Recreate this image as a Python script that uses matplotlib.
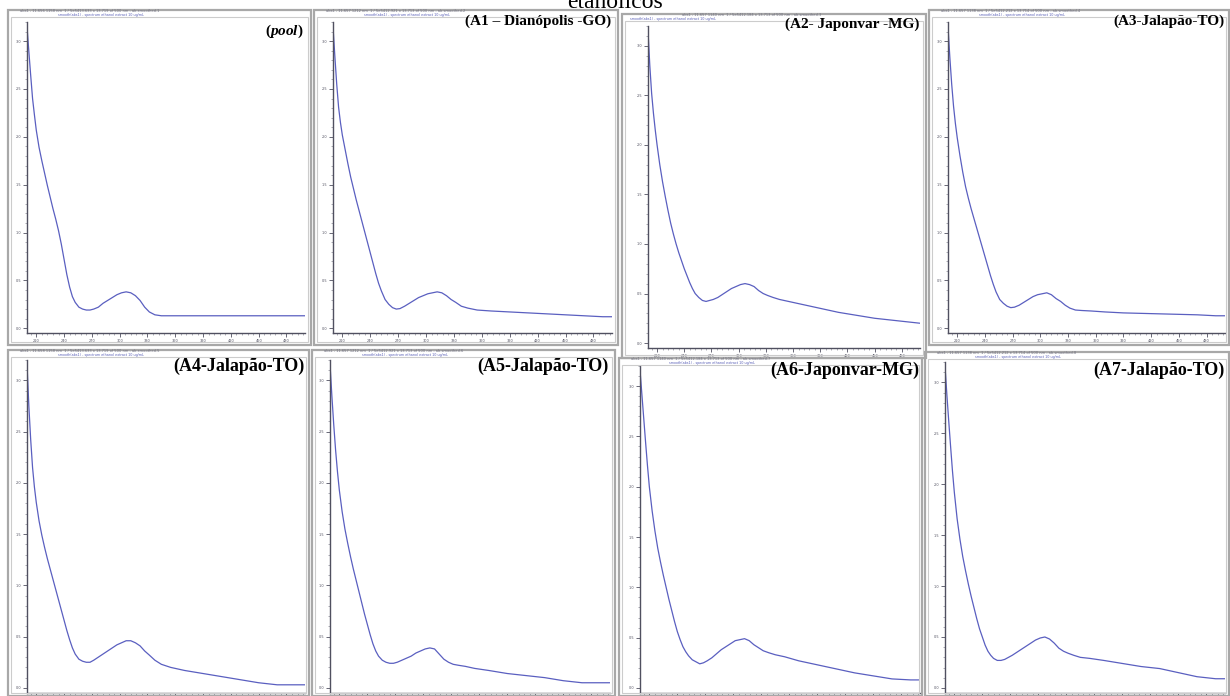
import matplotlib.pyplot as plt
from matplotlib.patches import Rectangle
from matplotlib.ticker import MultipleLocator

plt.rcParams['mathtext.fontset'] = 'custom'
plt.rcParams['mathtext.it'] = 'Liberation Serif:italic:bold'
plt.rcParams['mathtext.rm'] = 'Liberation Serif:bold'

W, H = 1230, 696

# wavelength grid (nm) shared by all spectra
wavelength = [200, 202, 204, 206, 208, 210,
              213, 216, 219, 222, 225, 228, 231, 234, 237, 240, 243, 246, 249, 252,
              256, 260, 264, 268, 272, 277, 282, 287, 292, 297, 302, 307, 312, 317,
              322, 327, 332, 338, 345, 355, 370, 390, 410, 430, 450, 470, 490, 500]

abs_pool = [3.15, 2.89, 2.64, 2.40, 2.23, 2.07,
            1.89, 1.75, 1.62, 1.49, 1.37, 1.25, 1.14, 1.02, 0.88, 0.72, 0.56, 0.43, 0.33, 0.27,
            0.22, 0.20, 0.19, 0.19, 0.20, 0.22, 0.26, 0.29, 0.32, 0.35, 0.37, 0.38, 0.37, 0.34,
            0.29, 0.22, 0.17, 0.14, 0.13, 0.13, 0.13, 0.13, 0.13, 0.13, 0.13, 0.13, 0.13, 0.13]
abs_a1 = [3.15, 2.84, 2.55, 2.31, 2.15, 2.02,
          1.87, 1.72, 1.58, 1.46, 1.34, 1.23, 1.12, 1.01, 0.90, 0.79, 0.68, 0.57, 0.47, 0.39,
          0.30, 0.25, 0.215, 0.20, 0.205, 0.23, 0.26, 0.29, 0.32, 0.34, 0.36, 0.37, 0.38, 0.37,
          0.34, 0.30, 0.27, 0.23, 0.21, 0.19, 0.18, 0.17, 0.16, 0.15, 0.14, 0.13, 0.12, 0.12]
abs_a2 = [3.15, 2.80, 2.52, 2.32, 2.15, 2.00,
          1.80, 1.63, 1.48, 1.34, 1.21, 1.10, 1.00, 0.91, 0.83, 0.75, 0.68, 0.61, 0.55, 0.50,
          0.46, 0.43, 0.42, 0.43, 0.44, 0.46, 0.49, 0.52, 0.55, 0.57, 0.59, 0.60, 0.59, 0.57,
          0.53, 0.50, 0.48, 0.46, 0.44, 0.42, 0.39, 0.35, 0.31, 0.28, 0.25, 0.23, 0.21, 0.20]
abs_a3 = [3.15, 2.83, 2.55, 2.32, 2.14, 1.99,
          1.80, 1.63, 1.48, 1.36, 1.25, 1.15, 1.05, 0.95, 0.85, 0.75, 0.65, 0.55, 0.46, 0.38,
          0.30, 0.26, 0.23, 0.215, 0.22, 0.24, 0.27, 0.30, 0.33, 0.35, 0.36, 0.37, 0.35, 0.31,
          0.28, 0.24, 0.21, 0.19, 0.185, 0.18, 0.17, 0.16, 0.155, 0.15, 0.145, 0.14, 0.13, 0.13]
abs_a4 = [3.16, 2.75, 2.42, 2.15, 1.96, 1.81,
          1.63, 1.49, 1.37, 1.26, 1.16, 1.06, 0.96, 0.86, 0.76, 0.66, 0.56, 0.47, 0.39, 0.33,
          0.28, 0.26, 0.25, 0.25, 0.27, 0.30, 0.33, 0.36, 0.39, 0.42, 0.44, 0.46, 0.46, 0.44,
          0.41, 0.36, 0.32, 0.27, 0.23, 0.20, 0.17, 0.14, 0.11, 0.08, 0.05, 0.03, 0.03, 0.03]
abs_a5 = [3.16, 2.85, 2.57, 2.32, 2.11, 1.93,
          1.72, 1.55, 1.41, 1.28, 1.16, 1.05, 0.94, 0.83, 0.72, 0.62, 0.52, 0.43, 0.36, 0.31,
          0.27, 0.25, 0.24, 0.24, 0.25, 0.27, 0.29, 0.31, 0.34, 0.36, 0.38, 0.39, 0.38, 0.33,
          0.28, 0.25, 0.23, 0.22, 0.21, 0.19, 0.17, 0.14, 0.12, 0.10, 0.07, 0.05, 0.05, 0.05]
abs_a6 = [3.16, 2.92, 2.68, 2.44, 2.21, 2.00,
          1.76, 1.56, 1.39, 1.25, 1.12, 1.00, 0.88, 0.77, 0.66, 0.56, 0.48, 0.41, 0.36, 0.32,
          0.28, 0.26, 0.24, 0.25, 0.27, 0.30, 0.34, 0.38, 0.41, 0.44, 0.47, 0.48, 0.49, 0.47,
          0.43, 0.40, 0.37, 0.35, 0.33, 0.31, 0.27, 0.23, 0.19, 0.15, 0.12, 0.09, 0.08, 0.08]
abs_a7 = [3.16, 2.88, 2.62, 2.37, 2.13, 1.92,
          1.66, 1.46, 1.29, 1.15, 1.02, 0.90, 0.79, 0.68, 0.58, 0.50, 0.42, 0.36, 0.32, 0.29,
          0.27, 0.27, 0.28, 0.30, 0.32, 0.35, 0.38, 0.41, 0.44, 0.47, 0.49, 0.50, 0.48, 0.44,
          0.39, 0.36, 0.34, 0.32, 0.30, 0.29, 0.27, 0.24, 0.21, 0.19, 0.15, 0.11, 0.09, 0.09]

labels = [r'($\mathit{pool}$)', '(A1 – Dianópolis -GO)', '(A2- Japonvar -MG)', '(A3-Jalapão-TO)',
          '(A4-Jalapão-TO)', '(A5-Jalapão-TO)', '(A6-Japonvar-MG)', '(A7-Jalapão-TO)']
spectra = [abs_pool, abs_a1, abs_a2, abs_a3, abs_a4, abs_a5, abs_a6, abs_a7]

# window frame (l, t, r, b) and plot area (l, t, r, b) in pixels
frames = [(8, 10, 311, 345), (314, 10, 618, 345), (622, 14, 926, 358), (929, 10, 1229, 345),
          (8, 350, 309, 696), (312, 350, 615, 696), (619, 358, 922, 696), (925, 352, 1229, 696)]
plots = [(27, 22, 305, 333), (333, 22, 612, 333), (648, 26, 920, 348), (948, 22, 1225, 333),
         (27, 360, 305, 693), (330, 360, 610, 693), (640, 366, 920, 693), (945, 362, 1225, 693)]
label_top = [23, 15, 18, 15, 358, 358, 362, 362]
header_dx = [12, 12, 60, 12, 12, 12, 12, 12]
subhead_dx = [50, 50, 8, 50, 50, 50, 50, 50]
headers = ['abs1 - 11.656 1158 nm  1 / 5e5413.633 x 13.719 of 500 nm - ab.smoothed.1',
           'abs1 - 11.657 1212 nm  1 / 5e5412.921 x 13.713 of 500 nm - ab.smoothed.2',
           'abs1 - 11.657 1140 nm  1 / 5e5412.184 x 13.713 of 500 nm - ab.smoothed.3',
           'abs1 - 11.657 1138 nm  1 / 5e5412.212 x 13.714 of 500 nm - ab.smoothed.4',
           'abs1 - 11.658 1158 nm  1 / 5e5413.633 x 13.719 of 500 nm - ab.smoothed.5',
           'abs1 - 11.657 1212 nm  1 / 5e5412.921 x 13.713 of 500 nm - ab.smoothed.6',
           'abs1 - 11.657 1140 nm  1 / 5e5412.184 x 13.713 of 500 nm - ab.smoothed.7',
           'abs1 - 11.657 1138 nm  1 / 5e5412.212 x 13.714 of 500 nm - ab.smoothed.8']


def rect(l, t, r, b):
    return [l / W, 1 - b / H, (r - l) / W, (b - t) / H]


fig = plt.figure(figsize=(W / 100, H / 100), dpi=100)
fig.patch.set_facecolor('white')

fig.text(0.5, 1 - 3 / H, 'etanólicos', ha='center', va='center',
         fontsize=17, family='Liberation Serif')

for i, (frame, plot, spec, label) in enumerate(zip(frames, plots, spectra, labels)):
    fl, ft, fr, fb = frame
    fig.patches.append(Rectangle((fl / W, 1 - fb / H), (fr - fl) / W, (fb - ft) / H,
                                 transform=fig.transFigure, fill=False,
                                 edgecolor='#a8a8a8', linewidth=1.6))
    fig.patches.append(Rectangle(((fl + 3) / W, 1 - (fb - 3) / H), (fr - fl - 6) / W,
                                 (fb - ft - 10) / H, transform=fig.transFigure, fill=False,
                                 edgecolor='#cccccc', linewidth=0.8))
    fig.text((fl + header_dx[i]) / W, 1 - (ft + 1.5) / H, headers[i], fontsize=2.6,
             color='#707080', va='center', ha='left')
    fig.text((fl + subhead_dx[i]) / W, 1 - (ft + 5) / H,
             'smooth(abs1) - spectrum ethanol extract 10 ug/mL',
             fontsize=2.4, color='#5a60b8', va='center', ha='left')

    ax = fig.add_axes(rect(*plot))
    ax.plot(wavelength, spec, color='#5a5fc0', linewidth=0.9, solid_joinstyle='round')
    ax.set_xlim(200, 500)
    ax.set_ylim(-0.05, 3.2)
    ax.set_facecolor('none')
    for side in ('top', 'right'):
        ax.spines[side].set_visible(False)
    for side in ('left', 'bottom'):
        ax.spines[side].set_color('#505060')
        ax.spines[side].set_linewidth(1.0)
    ax.xaxis.set_major_locator(MultipleLocator(30))
    ax.xaxis.set_minor_locator(MultipleLocator(6))
    ax.yaxis.set_major_locator(MultipleLocator(0.5))
    ax.yaxis.set_minor_locator(MultipleLocator(0.1))
    ax.tick_params(which='major', direction='out', length=3, width=0.6,
                   labelsize=2.5, colors='#505060', pad=1)
    ax.tick_params(which='minor', direction='out', length=1.5, width=0.4, colors='#707080')
    if i >= 4:
        ax.tick_params(axis='x', labelbottom=False)

    fig.text((plot[2] - 1) / W, 1 - label_top[i] / H, label,
             fontsize=13 if i >= 4 else 11, fontweight='bold', family='Liberation Serif',
             ha='right', va='top')

fig.savefig('out.png', dpi=100)
